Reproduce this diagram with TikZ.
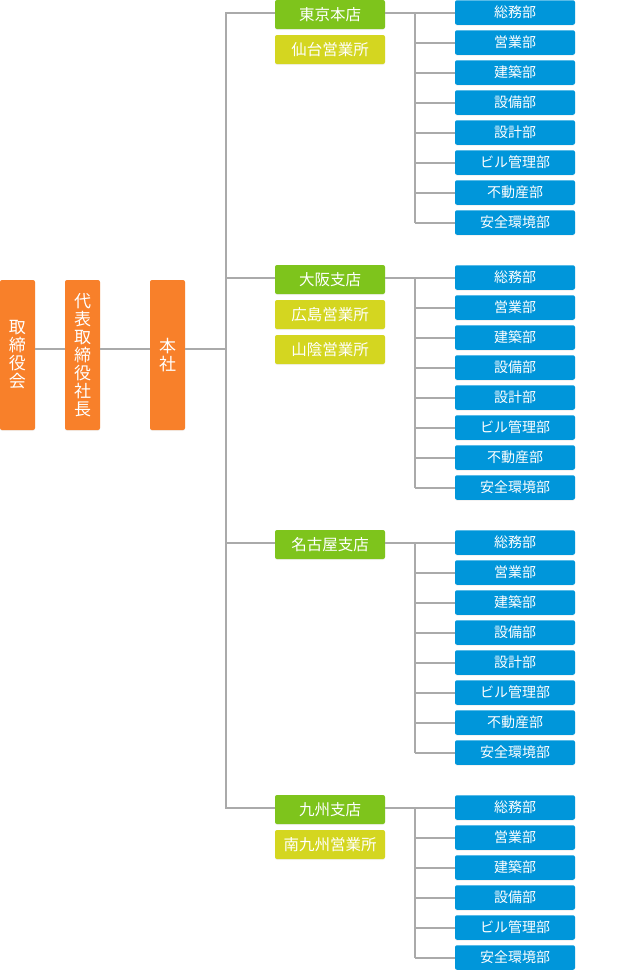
\documentclass[tikz,border=0pt]{standalone}
\usepackage{fontspec}
\setmainfont{Noto Sans CJK JP}
\usetikzlibrary{shadows}
\definecolor{orgc}{RGB}{248,128,42}
\definecolor{grnc}{RGB}{126,196,28}
\definecolor{ylwc}{RGB}{212,214,32}
\definecolor{bluc}{RGB}{0,150,218}
\definecolor{linc}{RGB}{170,170,170}
\begin{document}
\begin{tikzpicture}[x=1pt,y=-1pt,
  box/.style={rounded corners=2pt, inner sep=0pt, text=white,
    drop shadow={opacity=0.10,shadow xshift=0pt,shadow yshift=-1pt}},
  execbox/.style={box, fill=orgc, minimum width=35pt, minimum height=150pt,
    font=\fontsize{17}{18}\selectfont, align=center},
  branchbox/.style={box, fill=grnc, minimum width=110pt, minimum height=29pt,
    font=\fontsize{15.5}{17}\selectfont},
  officebox/.style={box, fill=ylwc, minimum width=110pt, minimum height=29pt,
    font=\fontsize{15.5}{17}\selectfont},
  deptbox/.style={box, fill=bluc, minimum width=120pt, minimum height=24.5pt,
    font=\fontsize{14}{16}\selectfont},
  conn/.style={draw=linc, line width=2pt}
]
\useasboundingbox (0,0) rectangle (640,970);

% executive boxes
\node[execbox] (bod) at (17.5,355) {取\\締\\役\\会};
\node[execbox] (pres) at (82.5,355) {代\\表\\取\\締\\役\\社\\長};
\node[execbox] (hs) at (167.5,355) {本\\社};
\coordinate (hq) at (226,349);
\coordinate (sx) at (415,0);

% branches
\node[branchbox] (g1) at (330,14.5) {東京本店};
\node[officebox] (y11) at (330,49.5) {仙台営業所};
\node[branchbox] (g2) at (330,279.5) {大阪支店};
\node[officebox] (y21) at (330,314.5) {広島営業所};
\node[officebox] (y22) at (330,349.5) {山陰営業所};
\node[branchbox] (g3) at (330,544.5) {名古屋支店};
\node[branchbox] (g4) at (330,809.5) {九州支店};
\node[officebox] (y41) at (330,844.5) {南九州営業所};

% departments
\foreach \d [count=\i] in {総務部,営業部,建築部,設備部,設計部,ビル管理部,不動産部,安全環境部}{
  \node[deptbox] (a\i) at (515,{30*(\i-1)+12.5}) {\d};
  \node[deptbox] (b\i) at (515,{265+30*(\i-1)+12.5}) {\d};
  \node[deptbox] (c\i) at (515,{530+30*(\i-1)+12.5}) {\d};
}
\foreach \d [count=\i] in {総務部,営業部,建築部,設備部,ビル管理部,安全環境部}{
  \node[deptbox] (d\i) at (515,{795+30*(\i-1)+12.5}) {\d};
}

% executive connectors
\draw[conn] (bod.east |- hq) -- (pres.west |- hq);
\draw[conn] (pres.east |- hq) -- (hs.west |- hq);
\draw[conn] (hs.east |- hq) -- (hq);

% trunk
\draw[conn] (g1.west |- a1.west) -| (hq) |- (g4.west |- d1.west);
\draw[conn] (hq |- b1.west) -- (g2.west |- b1.west);
\draw[conn] (hq |- c1.west) -- (g3.west |- c1.west);

% sub-trunks
\draw[conn] (g1.east |- a1.west) -- (a1.west);
\draw[conn] (g2.east |- b1.west) -- (b1.west);
\draw[conn] (g3.east |- c1.west) -- (c1.west);
\draw[conn] (g4.east |- d1.west) -- (d1.west);
\draw[conn] (sx |- a1.west) -- (sx |- a8.west);
\draw[conn] (sx |- b1.west) -- (sx |- b8.west);
\draw[conn] (sx |- c1.west) -- (sx |- c8.west);
\draw[conn] (sx |- d1.west) -- (sx |- d6.west);
\foreach \i in {2,...,8}{
  \draw[conn] (sx |- a\i.west) -- (a\i.west);
  \draw[conn] (sx |- b\i.west) -- (b\i.west);
  \draw[conn] (sx |- c\i.west) -- (c\i.west);
}
\foreach \i in {2,...,6}{
  \draw[conn] (sx |- d\i.west) -- (d\i.west);
}
\end{tikzpicture}
\end{document}
